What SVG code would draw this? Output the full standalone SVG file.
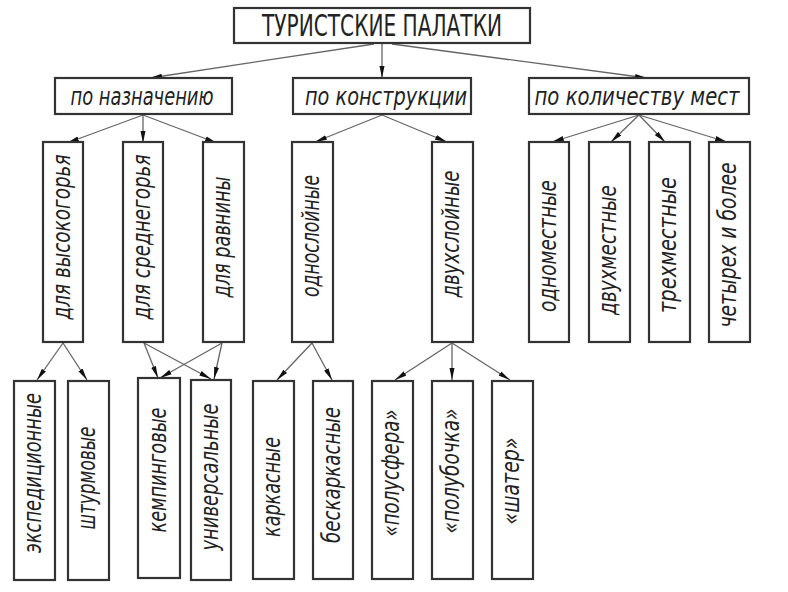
<svg xmlns="http://www.w3.org/2000/svg" width="788" height="592" viewBox="0 0 788 592">
<style>
.box{fill:#fff;stroke:#333;stroke-width:2.2}
.t{font-family:"DejaVu Sans Condensed","DejaVu Sans","Liberation Sans",sans-serif;fill:#222;font-style:italic;font-size:24px;text-anchor:middle}
.title{font-family:"DejaVu Sans Condensed","DejaVu Sans","Liberation Sans",sans-serif;fill:#222;font-size:30px;text-anchor:middle}
.c{stroke:#666;stroke-width:1.3;fill:none;marker-end:url(#ah)}
</style>
<defs>
<marker id="ah" markerUnits="userSpaceOnUse" markerWidth="12" markerHeight="6" refX="12" refY="3" orient="auto">
<path d="M0,0.5 L12,3 L0,5.5 z" fill="#111"/>
</marker>
</defs>
<rect width="788" height="592" fill="#fff"/>
<g id="connectors">
<line class="c" x1="374" y1="44" x2="150" y2="78"/>
<line class="c" x1="382" y1="44" x2="382" y2="78"/>
<line class="c" x1="392" y1="44" x2="647" y2="78"/>
<line class="c" x1="143" y1="115" x2="67" y2="143"/>
<line class="c" x1="143" y1="115" x2="143" y2="143"/>
<line class="c" x1="143" y1="115" x2="217" y2="143"/>
<line class="c" x1="382" y1="115" x2="315" y2="142"/>
<line class="c" x1="382" y1="115" x2="447" y2="142"/>
<line class="c" x1="639" y1="115" x2="552" y2="142"/>
<line class="c" x1="639" y1="115" x2="611" y2="142"/>
<line class="c" x1="639" y1="115" x2="665" y2="142"/>
<line class="c" x1="639" y1="115" x2="727" y2="142"/>
<line class="c" x1="63" y1="343" x2="37" y2="380"/>
<line class="c" x1="63" y1="343" x2="87" y2="380"/>
<line class="c" x1="144" y1="343" x2="158" y2="378"/>
<line class="c" x1="144" y1="343" x2="211" y2="379"/>
<line class="c" x1="222" y1="343" x2="160" y2="378"/>
<line class="c" x1="222" y1="343" x2="214" y2="379"/>
<line class="c" x1="312" y1="343" x2="277" y2="380"/>
<line class="c" x1="312" y1="343" x2="332" y2="380"/>
<line class="c" x1="452" y1="343" x2="395" y2="380"/>
<line class="c" x1="452" y1="343" x2="452" y2="380"/>
<line class="c" x1="452" y1="343" x2="510" y2="380"/>
</g>
<g id="n-title"><rect class="box" x="234" y="8" width="296" height="35"/><text class="title" x="382" y="36" textLength="240" lengthAdjust="spacingAndGlyphs">ТУРИСТСКИЕ ПАЛАТКИ</text></g>
<g id="n-naznach"><rect class="box" x="55" y="78" width="177" height="36"/><text class="t" x="142" y="105" textLength="143" lengthAdjust="spacingAndGlyphs">по назначению</text></g>
<g id="n-konstr"><rect class="box" x="293" y="78" width="178" height="36"/><text class="t" x="386" y="105" textLength="162" lengthAdjust="spacingAndGlyphs">по конструкции</text></g>
<g id="n-kolich"><rect class="box" x="529" y="78" width="220" height="36"/><text class="t" x="637" y="105" textLength="205" lengthAdjust="spacingAndGlyphs">по количеству мест</text></g>

<g id="n-vysok"><rect class="box" x="43" y="142" width="40" height="200"/><text class="t" transform="translate(63,237) rotate(-90)" dy="7" textLength="165" lengthAdjust="spacingAndGlyphs">для высокогорья</text></g>
<g id="n-sredn"><rect class="box" x="123" y="142" width="40" height="200"/><text class="t" transform="translate(143,237) rotate(-90)" dy="7" textLength="165" lengthAdjust="spacingAndGlyphs">для среднегорья</text></g>
<g id="n-ravn"><rect class="box" x="203" y="142" width="41" height="200"/><text class="t" transform="translate(223,237) rotate(-90)" dy="7" textLength="121" lengthAdjust="spacingAndGlyphs">для равнины</text></g>
<g id="n-odnosl"><rect class="box" x="292" y="142" width="41" height="200"/><text class="t" transform="translate(312,236) rotate(-90)" dy="7" textLength="122" lengthAdjust="spacingAndGlyphs">однослойные</text></g>
<g id="n-dvuhsl"><rect class="box" x="432" y="142" width="41" height="200"/><text class="t" transform="translate(452,234) rotate(-90)" dy="7" textLength="127" lengthAdjust="spacingAndGlyphs">двухслойные</text></g>
<g id="n-odnom"><rect class="box" x="529" y="142" width="40" height="200"/><text class="t" transform="translate(549,246) rotate(-90)" dy="7" textLength="132" lengthAdjust="spacingAndGlyphs">одноместные</text></g>
<g id="n-dvuhm"><rect class="box" x="589" y="142" width="41" height="200"/><text class="t" transform="translate(609,250) rotate(-90)" dy="7" textLength="130" lengthAdjust="spacingAndGlyphs">двухместные</text></g>
<g id="n-trehm"><rect class="box" x="649" y="142" width="41" height="200"/><text class="t" transform="translate(669,245) rotate(-90)" dy="7" textLength="136" lengthAdjust="spacingAndGlyphs">трехместные</text></g>
<g id="n-chetyr"><rect class="box" x="709" y="142" width="41" height="200"/><text class="t" transform="translate(729,245) rotate(-90)" dy="7" textLength="165" lengthAdjust="spacingAndGlyphs">четырех и более</text></g>

<g id="n-eksp"><rect class="box" x="14" y="381" width="41" height="199"/><text class="t" transform="translate(34,473) rotate(-90)" dy="7" textLength="160" lengthAdjust="spacingAndGlyphs">экспедиционные</text></g>
<g id="n-shturm"><rect class="box" x="68" y="381" width="41" height="199"/><text class="t" transform="translate(88,478) rotate(-90)" dy="7" textLength="103" lengthAdjust="spacingAndGlyphs">штурмовые</text></g>
<g id="n-kemp"><rect class="box" x="138" y="378" width="42" height="200"/><text class="t" transform="translate(159,470) rotate(-90)" dy="7" textLength="125" lengthAdjust="spacingAndGlyphs">кемпинговые</text></g>
<g id="n-univ"><rect class="box" x="191" y="380" width="40" height="200"/><text class="t" transform="translate(211,477) rotate(-90)" dy="7" textLength="147" lengthAdjust="spacingAndGlyphs">универсальные</text></g>
<g id="n-kark"><rect class="box" x="253" y="381" width="41" height="198"/><text class="t" transform="translate(273,487) rotate(-90)" dy="7" textLength="100" lengthAdjust="spacingAndGlyphs">каркасные</text></g>
<g id="n-beskark"><rect class="box" x="313" y="381" width="40" height="198"/><text class="t" transform="translate(333,475) rotate(-90)" dy="7" textLength="136" lengthAdjust="spacingAndGlyphs">бескаркасные</text></g>
<g id="n-polusf"><rect class="box" x="372" y="381" width="41" height="198"/><text class="t" transform="translate(392,473) rotate(-90)" dy="7" textLength="127" lengthAdjust="spacingAndGlyphs">«полусфера»</text></g>
<g id="n-polub"><rect class="box" x="432" y="381" width="41" height="198"/><text class="t" transform="translate(452,471) rotate(-90)" dy="7" textLength="125" lengthAdjust="spacingAndGlyphs">«полубочка»</text></g>
<g id="n-shater"><rect class="box" x="492" y="381" width="41" height="198"/><text class="t" transform="translate(512,481) rotate(-90)" dy="7" textLength="87" lengthAdjust="spacingAndGlyphs">«шатер»</text></g>
</svg>
